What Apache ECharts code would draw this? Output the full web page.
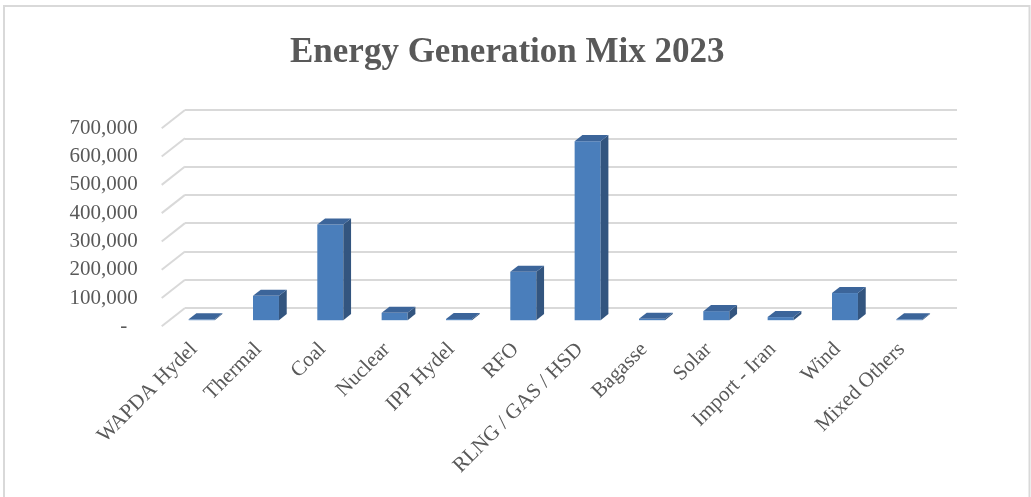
<!DOCTYPE html>
<html>
<head>
<meta charset="utf-8">
<title>Energy Generation Mix 2023</title>
<script src="https://cdn.jsdelivr.net/npm/echarts@6/dist/echarts.min.js"></script>
<style>
  html, body { margin: 0; padding: 0; background: #ffffff; }
  #chart { width: 1031px; height: 497px; }
</style>
</head>
<body>
<div id="chart"></div>
<script>
// Generation by source, 2023
const categories = [
  'WAPDA Hydel', 'Thermal', 'Coal', 'Nuclear', 'IPP Hydel', 'RFO',
  'RLNG / GAS / HSD', 'Bagasse', 'Solar', 'Import - Iran', 'Wind', 'Mixed Others'
];
const generation = [
  3000, 86000, 338000, 26000, 4000, 171000,
  633000, 5000, 32000, 11000, 96000, 3000
];
const yTicks = [0, 100000, 200000, 300000, 400000, 500000, 600000, 700000];

// 3D box: back wall plus a depth offset towards the viewer
const WALL = { left: 185, top: 110, width: 772, height: 198 };
const DEPTH_X = 23.3, DEPTH_Y = 18.3;
const BAR_PLANE = 2 / 3;      // bar front faces sit 2/3 of the way forward
const BAR_DEPTH = 1 / 3;      // bar thickness as a share of the floor depth
const BAR_WIDTH = 0.404;      // share of the category band

const TEXT = '#595959';
const GRID_LINE = '#d9d9d9';
const FACE = '#4a7ebb', TOP = '#3c659a', SIDE = '#33557f';

function plane(f) {
  return {
    left: WALL.left - DEPTH_X * f,
    top: WALL.top + DEPTH_Y * f,
    width: WALL.width,
    height: WALL.height
  };
}

const yMax = yTicks[yTicks.length - 1];
const yStep = yTicks[1] - yTicks[0];

function valueAxis(gridIndex, showLabels) {
  return {
    type: 'value', gridIndex: gridIndex, min: yTicks[0], max: yMax, interval: yStep,
    axisLine: { show: false }, axisTick: { show: false },
    splitLine: { show: gridIndex === 0, lineStyle: { color: GRID_LINE, width: 2 } },
    axisLabel: {
      show: showLabels, margin: 24, color: TEXT,
      fontFamily: 'Liberation Serif', fontSize: 21,
      formatter: function (v) { return v === 0 ? '-  ' : v.toLocaleString('en-US'); }
    }
  };
}

function categoryAxis(gridIndex, showLabels) {
  return {
    type: 'category', gridIndex: gridIndex, data: categories,
    axisLine: { show: false }, axisTick: { show: false }, splitLine: { show: false },
    axisLabel: {
      show: showLabels, interval: 0, rotate: 45, margin: 20, color: TEXT,
      fontFamily: 'Liberation Serif', fontSize: 21
    }
  };
}

const dx = DEPTH_X * BAR_DEPTH, dy = DEPTH_Y * BAR_DEPTH;

function renderBar(params, api) {
  const i = api.value(0);
  const base = api.coord([i, 0]);
  const top = api.coord([i, api.value(1)]);
  const w = api.size([1, 0])[0] * BAR_WIDTH;
  const x0 = base[0] - w / 2, x1 = x0 + w;
  const yb = base[1], yt = top[1];
  return {
    type: 'group',
    children: [
      { type: 'rect', shape: { x: x0, y: yt, width: w, height: yb - yt },
        style: { fill: FACE } },
      { type: 'polygon', shape: { points: [[x1, yt], [x1 + dx, yt - dy], [x1 + dx, yb - dy], [x1, yb]] },
        style: { fill: SIDE } },
      { type: 'polygon', shape: { points: [[x0, yt], [x1, yt], [x1 + dx, yt - dy], [x0 + dx, yt - dy]] },
        style: { fill: TOP } }
    ]
  };
}

// Side-wall segments of each gridline, running from the back wall to the front edge
function renderWallLine(params, api) {
  const p = api.coord([0, api.value(0)]);
  const x = p[0] - api.size([1, 0])[0] / 2;
  return {
    type: 'line',
    shape: { x1: x, y1: p[1], x2: x - DEPTH_X, y2: p[1] + DEPTH_Y },
    style: { stroke: GRID_LINE, lineWidth: 2 }
  };
}

const chart = echarts.init(document.getElementById('chart'), null, { renderer: 'canvas' });
chart.setOption({
  backgroundColor: '#ffffff',
  animation: false,
  title: {
    text: 'Energy Generation Mix 2023',
    left: 285, top: 30,
    textStyle: { color: TEXT, fontFamily: 'Liberation Serif', fontWeight: 'bold', fontSize: 35 }
  },
  graphic: [{
    type: 'rect', silent: true, z: -1,
    shape: { x: 4, y: 6, width: 1025.5, height: 500 },
    style: { fill: 'none', stroke: GRID_LINE, lineWidth: 2 }
  }],
  grid: [plane(0), plane(1), plane(BAR_PLANE)],
  xAxis: [categoryAxis(0, false), categoryAxis(1, true), categoryAxis(2, false)],
  yAxis: [valueAxis(0, false), valueAxis(1, true), valueAxis(2, false)],
  series: [
    {
      type: 'custom', xAxisIndex: 0, yAxisIndex: 0,
      renderItem: renderWallLine,
      data: yTicks.map(function (v) { return [v]; }),
      encode: { y: 0 }, silent: true
    },
    {
      type: 'custom', name: 'Generation', xAxisIndex: 2, yAxisIndex: 2,
      renderItem: renderBar,
      data: generation.map(function (v, i) { return [i, v]; }),
      encode: { x: 0, y: 1 }
    }
  ]
});
</script>
</body>
</html>
